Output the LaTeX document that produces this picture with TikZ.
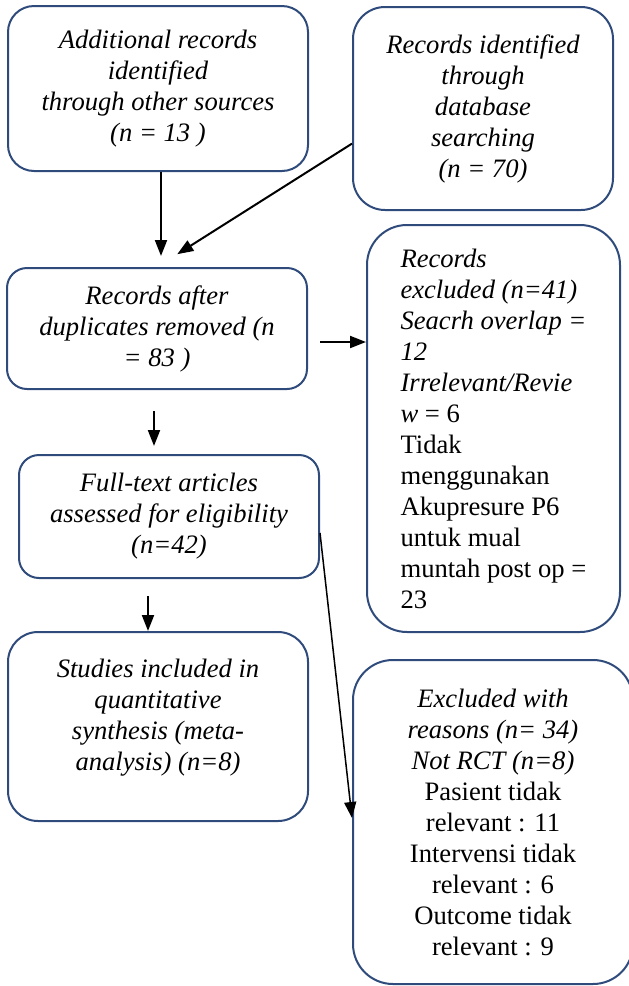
\documentclass[tikz,border=0pt]{standalone}
\usepackage{fontspec}
\setmainfont{Liberation Serif}
\usepackage{xcolor}
\usetikzlibrary{arrows.meta}
\definecolor{boxblue}{RGB}{47,75,124}

\begin{document}
\begin{tikzpicture}[x=0.5pt,y=-0.5pt,
  flowbox/.style={draw=boxblue,line width=1pt,rectangle,inner sep=0pt,align=center,
    font=\fontsize{13.3}{15.5}\selectfont},
  itbox/.style={flowbox,font=\fontsize{13.3}{15.5}\selectfont\itshape},
  arr/.style={-{Triangle[length=8pt,width=6pt]},line width=1pt}]
\useasboundingbox (0,0) rectangle (628,986);
\node[itbox,rounded corners=13pt,minimum width=150pt,minimum height=82.5pt] (add) at (158,88.5) {Additional records\\identified\\through other sources\\(n = 13 )};
\node[itbox,rounded corners=16pt,minimum width=130pt,minimum height=101.5pt] (db) at (483,108.5) {Records identified\\through\\database\\searching\\(n = 70)};
\node[itbox,rounded corners=10pt,minimum width=150pt,minimum height=60.5pt] (dup) at (157,328.5) {Records after\\duplicates removed (n\\= 83 )};
\node[flowbox,align=left,rounded corners=20pt,minimum width=126.5pt,minimum height=203.5pt] (excl) at (493.5,428.5) {\textit{Records}\\\textit{excluded (n=41)}\\\textit{Seacrh overlap =}\\\textit{12}\\\textit{Irrelevant/Revie}\\\textit{w} = 6\\Tidak\\menggunakan\\Akupresure P6\\untuk mual\\muntah post op =\\23};
\node[itbox,rounded corners=10pt,minimum width=150pt,minimum height=61.5pt] (full) at (169,516.5) {Full-text articles\\assessed for eligibility\\(n=42)};
\node[itbox,rounded corners=15pt,minimum width=150pt,minimum height=94.5pt] (incl) at (158,726.5) {Studies included in\\quantitative\\synthesis (meta-\\analysis) (n=8)\\[-4pt]\mbox{}};
\node[flowbox,rounded corners=20pt,minimum width=140pt,minimum height=162pt] (reas) at (493,822) {\textit{Excluded with}\\\textit{reasons (n= 34)}\\\textit{Not RCT (n=8)}\\Pasient tidak\\relevant : 11\\Intervensi tidak\\relevant : 6\\Outcome tidak\\relevant : 9};
\draw[arr,shorten >=5.5pt] ([xshift=1.5pt]add.south) -- ([xshift=1.5pt]add.south |- dup.north);
\draw[arr,shorten >=12pt] (db.195) -- (dup.north);
\draw[arr,shorten <=6pt] ([yshift=-6.75pt]dup.east) -- ([yshift=-6.75pt]dup.east -| excl.west);
\draw[arr,shorten <=10.5pt,shorten >=4pt] ([xshift=-1.5pt]dup.south) -- ([xshift=-1.5pt]dup.south |- full.north);
\draw[arr,shorten <=8.5pt] ([xshift=-5pt]incl.north |- full.south) -- ([xshift=-5pt]incl.north);
\draw[arr,line width=0.75pt] ([yshift=-8.25pt]full.east) -- ([yshift=2pt]reas.west);
\end{tikzpicture}
\end{document}
